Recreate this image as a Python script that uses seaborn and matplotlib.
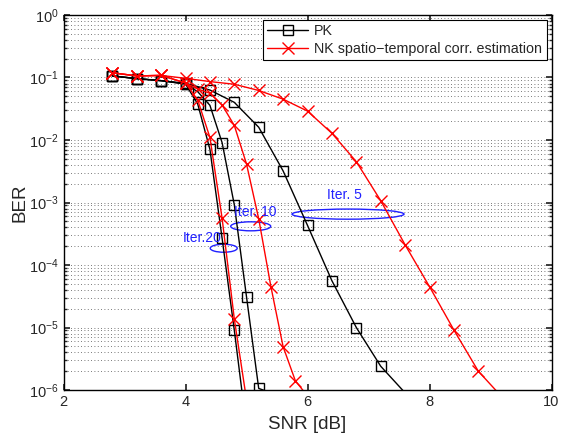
import seaborn as sns
import matplotlib.pyplot as plt
from matplotlib.lines import Line2D
from matplotlib.patches import Ellipse

# BER curves (SNR in dB)
snr_pk5 = [2.8, 3.2, 3.6, 4.0, 4.4, 4.8, 5.2, 5.6, 6.0, 6.4, 6.8, 7.2, 7.6]
ber_pk5 = [0.106, 0.096, 0.089, 0.081, 0.063, 0.040, 0.016, 3.2e-3, 4.3e-4, 5.6e-5, 1.0e-5, 2.4e-6, 9e-7]

snr_pk10 = [2.8, 3.2, 3.6, 4.0, 4.2, 4.4, 4.6, 4.8, 5.0, 5.2, 5.4]
ber_pk10 = [0.106, 0.096, 0.089, 0.0787, 0.0593, 0.0359, 9.05e-3, 9.2e-4, 3.1e-5, 1.06e-6, 9e-7]

snr_pk20 = [2.8, 3.2, 3.6, 4.0, 4.2, 4.4, 4.6, 4.8, 5.0]
ber_pk20 = [0.106, 0.096, 0.089, 0.0787, 0.0377, 7.1e-3, 2.67e-4, 9.0e-6, 2.5e-7]

snr_nk5 = [2.8, 3.2, 3.6, 4.0, 4.4, 4.8, 5.2, 5.6, 6.0, 6.4, 6.8, 7.2, 7.6, 8.0, 8.4, 8.8, 9.2]
ber_nk5 = [0.119, 0.106, 0.108, 0.097, 0.086, 0.078, 0.062, 0.045, 0.029, 0.0128,
           4.5e-3, 1.07e-3, 2.1e-4, 4.5e-5, 9.1e-6, 2.0e-6, 7.5e-7]

snr_nk10 = [2.8, 3.2, 3.6, 4.0, 4.2, 4.4, 4.6, 4.8, 5.0, 5.2, 5.4, 5.6, 5.8, 6.0]
ber_nk10 = [0.119, 0.106, 0.108, 0.0817, 0.0655, 0.0559, 0.0363, 0.0171, 4.13e-3,
            5.48e-4, 4.5e-5, 4.93e-6, 1.41e-6, 8e-7]

snr_nk20 = [2.8, 3.2, 3.6, 4.0, 4.2, 4.4, 4.6, 4.8, 5.0]
ber_nk20 = [0.119, 0.106, 0.108, 0.0817, 0.0436, 0.0110, 5.58e-4, 1.37e-5, 7e-7]

labels = ["PK", "NK spatio\u2212temporal corr. estimation"]
iter_labels = ["Iter. 5", "Iter. 10", "Iter.20"]

sns.set_theme(style="ticks")
plt.rcParams['font.family'] = ['Liberation Sans', 'DejaVu Sans']
plt.rcParams['mathtext.fontset'] = 'custom'
plt.rcParams['mathtext.rm'] = 'Liberation Sans'

fig = plt.figure(figsize=(5.61, 4.36), dpi=100)
ax = fig.add_axes([0.1132, 0.1055, 0.8699, 0.8601])

pk_style = dict(color="black", marker="s", markersize=7, markerfacecolor="none",
                markeredgecolor="black", markeredgewidth=1.0, linewidth=1.0)
nk_style = dict(color="red", marker="x", markersize=9, markeredgecolor="red",
                markeredgewidth=1.0, linewidth=1.0)

curves = [(snr_pk5, ber_pk5, pk_style), (snr_pk10, ber_pk10, pk_style), (snr_pk20, ber_pk20, pk_style),
          (snr_nk5, ber_nk5, nk_style), (snr_nk10, ber_nk10, nk_style), (snr_nk20, ber_nk20, nk_style)]
for x, y, st in curves:
    shown = [i for i, v in enumerate(y) if v >= 1e-6]
    sns.lineplot(x=x, y=y, ax=ax, markevery=shown, estimator=None, sort=False, **st)

ax.set_yscale("log")
ax.set_xlim(2, 10)
ax.set_ylim(1e-6, 1)
ax.set_xticks([2, 4, 6, 8, 10])
ax.set_xlabel("SNR [dB]", fontsize=13.5, labelpad=5)
ax.set_ylabel("BER", fontsize=13.5, labelpad=0)

ax.yaxis.grid(True, which="both", linestyle=(0, (1, 3)), color="0.3", linewidth=0.6)
ax.tick_params(which="both", direction="in", top=True, right=True, labelsize=10.5)
ax.tick_params(which="major", length=4)
ax.tick_params(which="minor", length=2)
for s in ax.spines.values():
    s.set_visible(True)
    s.set_color("black")
    s.set_linewidth(1.0)

handles = [Line2D([], [], **pk_style), Line2D([], [], **nk_style)]
leg = ax.legend(handles, labels, loc="upper right", fontsize=10.3, handlelength=2.9,
                fancybox=False, framealpha=1, edgecolor="black", borderaxespad=0.35,
                borderpad=0.3, labelspacing=0.25, handletextpad=0.4)
leg.get_frame().set_linewidth(0.8)

# iteration annotations (ellipses in axes fractions)
blue = "#2020ff"
ax.add_patch(Ellipse((0.583, 0.469), 0.2295, 0.027, transform=ax.transAxes,
                     fill=False, edgecolor=blue, linewidth=1.0))
ax.add_patch(Ellipse((0.3836, 0.4365), 0.082, 0.024, transform=ax.transAxes,
                     fill=False, edgecolor=blue, linewidth=1.0))
ax.add_patch(Ellipse((0.3283, 0.378), 0.0553, 0.0213, transform=ax.transAxes,
                     fill=False, edgecolor=blue, linewidth=1.0))
ax.text(0.575, 0.52, iter_labels[0], transform=ax.transAxes, color=blue,
        fontsize=10, ha="center", va="center")
ax.text(0.392, 0.475, iter_labels[1], transform=ax.transAxes, color=blue,
        fontsize=10, ha="center", va="center")
ax.text(0.284, 0.405, iter_labels[2], transform=ax.transAxes, color=blue,
        fontsize=10, ha="center", va="center")

fig.savefig("out.png", dpi=100)
